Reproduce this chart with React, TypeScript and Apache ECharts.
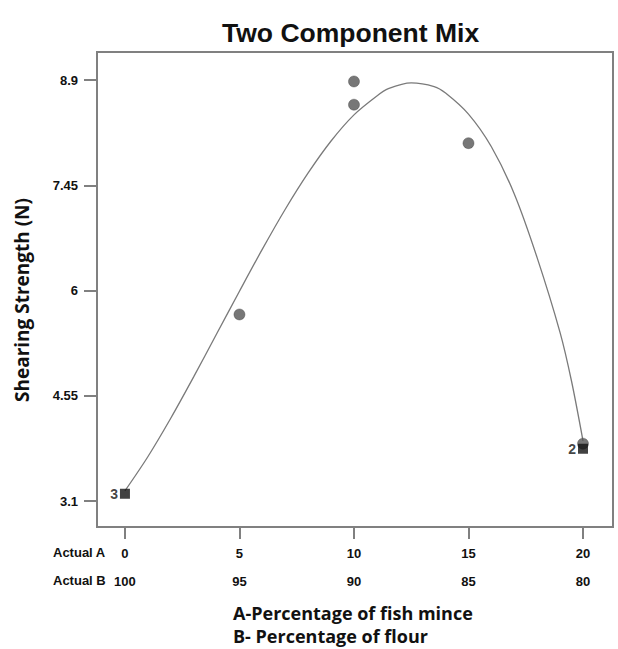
import React, { useEffect, useRef } from "react";
import * as echarts from "echarts";

// ---- data ----
const actualA = [0, 5, 10, 15, 20];
const actualB = [100, 95, 90, 85, 80];
const yTicks = [3.1, 4.55, 6, 7.45, 8.9];

// observed design points (circles)
const circleA = [5, 10, 10, 15, 20];
const circleY = [5.67, 8.88, 8.56, 8.03, 3.89];

// observed design points (squares, with replicate counts)
const squareA = [0, 20];
const squareY = [3.2, 3.82];
const squareCount = [3, 2];

// fitted response curve
const curveA = [0, 1, 2, 3, 4, 5, 6, 7, 8, 9, 10, 11, 11.5, 12.5, 13.5, 14, 15, 16, 17, 18, 19, 19.5, 20];
const curveY = [3.24, 3.71, 4.24, 4.81, 5.4, 5.99, 6.57, 7.12, 7.62, 8.06, 8.42, 8.68, 8.78, 8.86, 8.81, 8.72, 8.43, 7.98, 7.33, 6.45, 5.42, 4.75, 3.93];

const AXIS_COLOR = "#808080";
const LABEL_FONT = "'Liberation Sans', Arial, sans-serif";
const TITLE_FONT = "'Open Sans', 'Noto Sans', sans-serif";

export default function App() {
  const ref = useRef<HTMLDivElement>(null);

  useEffect(() => {
    if (!ref.current) return;
    const chart = echarts.init(ref.current, null, { renderer: "svg" });

    const option: any = {
      animation: false,
      backgroundColor: "#ffffff",
      title: {
        text: "Two Component Mix",
        left: 222,
        top: 19,
        padding: 0,
        textStyle: {
          fontFamily: LABEL_FONT,
          fontSize: 26.5,
          fontWeight: "bold",
          color: "#111",
        },
      },
      grid: {
        left: 97,
        top: 52,
        right: 5,
        bottom: 122,
        show: true,
        borderColor: AXIS_COLOR,
        borderWidth: 2,
        backgroundColor: "transparent",
      },
      xAxis: {
        type: "value",
        min: -1.22,
        max: 21.31,
        splitLine: { show: false },
        axisLine: { show: true, onZero: false, lineStyle: { color: AXIS_COLOR, width: 2 } },
        axisTick: {
          show: true,
          length: 12,
          customValues: actualA,
          lineStyle: { color: AXIS_COLOR, width: 2 },
        },
        axisLabel: {
          show: true,
          customValues: actualA,
          margin: 12,
          formatter: (v: number) => {
            const i = actualA.indexOf(v);
            return `{a|${v}}\n{b|${i >= 0 ? actualB[i] : ""}}`;
          },
          rich: {
            a: { fontFamily: LABEL_FONT, fontSize: 13, fontWeight: "bold", color: "#111", lineHeight: 28, align: "center" },
            b: { fontFamily: LABEL_FONT, fontSize: 13, fontWeight: "bold", color: "#111", lineHeight: 28, align: "center" },
          },
        },
      },
      yAxis: {
        type: "value",
        min: 2.742,
        max: 9.286,
        splitLine: { show: false },
        axisLine: { show: true, onZero: false, lineStyle: { color: AXIS_COLOR, width: 2 } },
        axisTick: {
          show: true,
          length: 13,
          customValues: yTicks,
          lineStyle: { color: AXIS_COLOR, width: 2 },
        },
        axisLabel: {
          show: true,
          customValues: yTicks,
          margin: 19,
          formatter: (v: number) => String(v),
          fontFamily: LABEL_FONT,
          fontSize: 13,
          fontWeight: "bold",
          color: "#111",
        },
      },
      series: [
        {
          type: "line",
          data: curveA.map((a, i) => [a, curveY[i]]),
          smooth: 0.3,
          showSymbol: false,
          symbol: "none",
          lineStyle: { color: "#7a7a7a", width: 1.3 },
          z: 2,
        },
        {
          type: "scatter",
          data: circleA.map((a, i) => [a, circleY[i]]),
          symbol: "circle",
          symbolSize: 11,
          itemStyle: { color: "#555555", borderColor: "#444", borderWidth: 0.5 },
          z: 3,
        },
        {
          type: "scatter",
          data: squareA.map((a, i) => [a, squareY[i]]),
          symbol: "rect",
          symbolSize: 10,
          itemStyle: { color: "#111" },
          label: {
            show: true,
            position: "left",
            distance: 2,
            formatter: (p: any) => String(squareCount[p.dataIndex]),
            fontFamily: LABEL_FONT,
            fontSize: 14,
            fontWeight: "bold",
            color: "#111",
          },
          z: 4,
        },
      ],
      graphic: [
        {
          type: "text",
          x: 22,
          y: 300,
          rotation: Math.PI / 2,
          style: {
            text: "Shearing Strength (N)",
            fontFamily: TITLE_FONT,
            fontSize: 19,
            fontWeight: "bold",
            fill: "#111",
            align: "center",
            verticalAlign: "middle",
          },
        },
        {
          type: "text",
          left: 53,
          top: 546,
          style: { text: "Actual A", fontFamily: LABEL_FONT, fontSize: 13, fontWeight: "bold", fill: "#111" },
        },
        {
          type: "text",
          left: 53,
          top: 574,
          style: { text: "Actual B", fontFamily: LABEL_FONT, fontSize: 13, fontWeight: "bold", fill: "#111" },
        },
        {
          type: "text",
          left: 233,
          top: 604,
          style: { text: "A-Percentage of fish mince", fontFamily: TITLE_FONT, fontSize: 18, fontWeight: "bold", fill: "#111" },
        },
        {
          type: "text",
          left: 233,
          top: 627,
          style: { text: "B- Percentage of flour", fontFamily: TITLE_FONT, fontSize: 18, fontWeight: "bold", fill: "#111" },
        },
      ],
    };

    chart.setOption(option);
    return () => chart.dispose();
  }, []);

  return (
    <div
      ref={ref}
      style={{ position: "absolute", left: 0, top: 0, width: 618, height: 649, background: "#fff" }}
    />
  );
}
